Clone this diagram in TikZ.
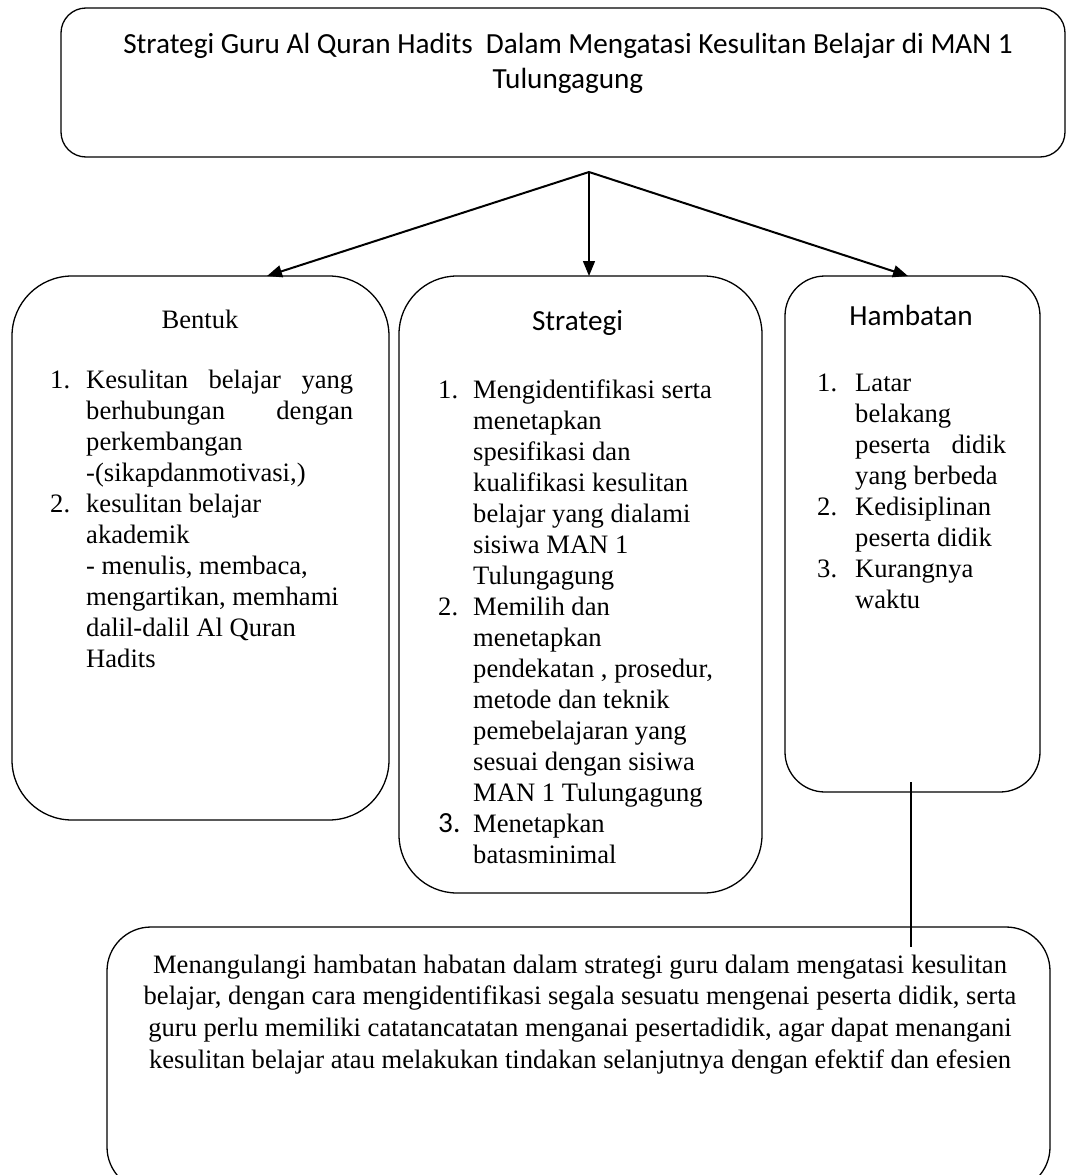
\documentclass[tikz,border=0pt]{standalone}
\usepackage{fontspec}
\setmainfont{Liberation Serif}
\newfontfamily\calibri{Carlito}
\usepackage{tikz}
\usetikzlibrary{arrows.meta}

\newlength{\indenbutir}
\newcommand{\butir}[2]{\par\noindent\hangindent=\indenbutir\hangafter=1\makebox[\indenbutir][l]{#1}#2}
\newcommand{\rata}[1]{\makebox[\dimexpr\hsize-\indenbutir\relax][s]{#1}}

\begin{document}
\begin{tikzpicture}[x=1pt,y=-1pt,
		kotak/.style={draw,line width=1.3pt,rounded corners=#1,inner sep=0pt,outer sep=0pt},
		panah/.style={-{Triangle[length=15pt,width=12pt]},line width=2pt},
		isi/.style={inner sep=0pt,font=\fontsize{26.6}{31}\selectfont},
		kepala/.style={inner sep=0pt,font=\calibri\fontsize{29.2}{35.6}\selectfont}]
		\useasboundingbox (0,0) rectangle (1067,1175);
		\clip (0,0) rectangle (1067,1175);
		% kotak
		\node[kotak=25pt,minimum width=1004pt,minimum height=149pt] (judul) at (563,82.5) {};
		\node[kotak=60pt,minimum width=377pt,minimum height=544pt] (bentuk) at (200.5,548) {};
		\node[kotak=58pt,minimum width=363pt,minimum height=617pt] (strategi) at (580.5,584.5) {};
		\node[kotak=40pt,minimum width=255pt,minimum height=516pt] (hambatan) at (912.5,534) {};
		\node[kotak=44pt,minimum width=943pt,minimum height=264pt] (tindakan) at (578.5,1059) {};
		% panah
		\coordinate (pusat) at ([xshift=26pt,yshift=-15pt]judul.south);
		\draw[panah] (pusat)--([xshift=66.5pt]bentuk.north);
		\draw[panah,line width=1.4pt] (pusat)--([xshift=8.5pt]strategi.north);
		\draw[panah] (pusat)--([xshift=-4.5pt]hambatan.north);
		\draw[line width=1.3pt] ([xshift=-1.5pt,yshift=10pt]hambatan.south)--([xshift=-1.5pt,yshift=-20pt]hambatan.south|-tindakan.north);
		% teks
		\node[kepala,anchor=base] (teksjudul) at (568,53) {\parbox[t]{1000pt}{\centering Strategi Guru Al Quran Hadits\ \ Dalam Mengatasi Kesulitan Belajar di MAN 1\\Tulungagung}};
		\node[isi,anchor=base] (kepbentuk) at (200,328) {Bentuk};
		\node[kepala,anchor=base] (kepstrategi) at (577.5,330) {Strategi};
		\node[kepala,anchor=base] (kephambatan) at (911,325) {Hambatan};
		\node[isi,anchor=base west] (daftarbentuk) at (50,388) {\parbox[t]{303pt}{\setlength{\indenbutir}{36pt}
				\butir{1.}{\rata{Kesulitan belajar yang}\\\rata{berhubungan dengan}\\perkembangan\\-(sikapdanmotivasi,)}
				\butir{2.}{kesulitan belajar\\akademik\\- menulis, membaca,\\mengartikan, memhami\\dalil-dalil Al Quran\\Hadits}}};
		\node[isi,anchor=base west] (daftarstrategi) at (438,398) {\parbox[t]{320pt}{\setlength{\indenbutir}{35pt}
				\butir{1.}{Mengidentifikasi serta\\menetapkan\\spesifikasi dan\\kualifikasi kesulitan\\belajar yang dialami\\sisiwa MAN 1\\Tulungagung}
				\butir{2.}{Memilih dan\\menetapkan\\pendekatan , prosedur,\\metode dan teknik\\pemebelajaran yang\\sesuai dengan sisiwa\\MAN 1 Tulungagung}
				\butir{{\calibri\fontsize{29.2}{31}\selectfont 3.}}{Menetapkan\\batasminimal}}};
		\node[isi,anchor=base west] (daftarhambatan) at (817,391) {\parbox[t]{189pt}{\setlength{\indenbutir}{38pt}
				\butir{1.}{Latar\\belakang\\\rata{peserta didik}\\yang berbeda}
				\butir{2.}{Kedisiplinan\\peserta didik}
				\butir{3.}{Kurangnya\\waktu}}};
		\node[isi,anchor=base] (teksbawah) at (580,973) {\parbox[t]{940pt}{\centering\fontsize{26.6}{31.7}\selectfont
				Menangulangi hambatan habatan dalam strategi guru dalam mengatasi kesulitan\\
				belajar, dengan cara mengidentifikasi segala sesuatu mengenai peserta didik, serta\\
				guru perlu memiliki catatancatatan menganai pesertadidik, agar dapat menangani\\
				kesulitan belajar atau melakukan tindakan selanjutnya dengan efektif dan efesien}};
	\end{tikzpicture}
\end{document}
